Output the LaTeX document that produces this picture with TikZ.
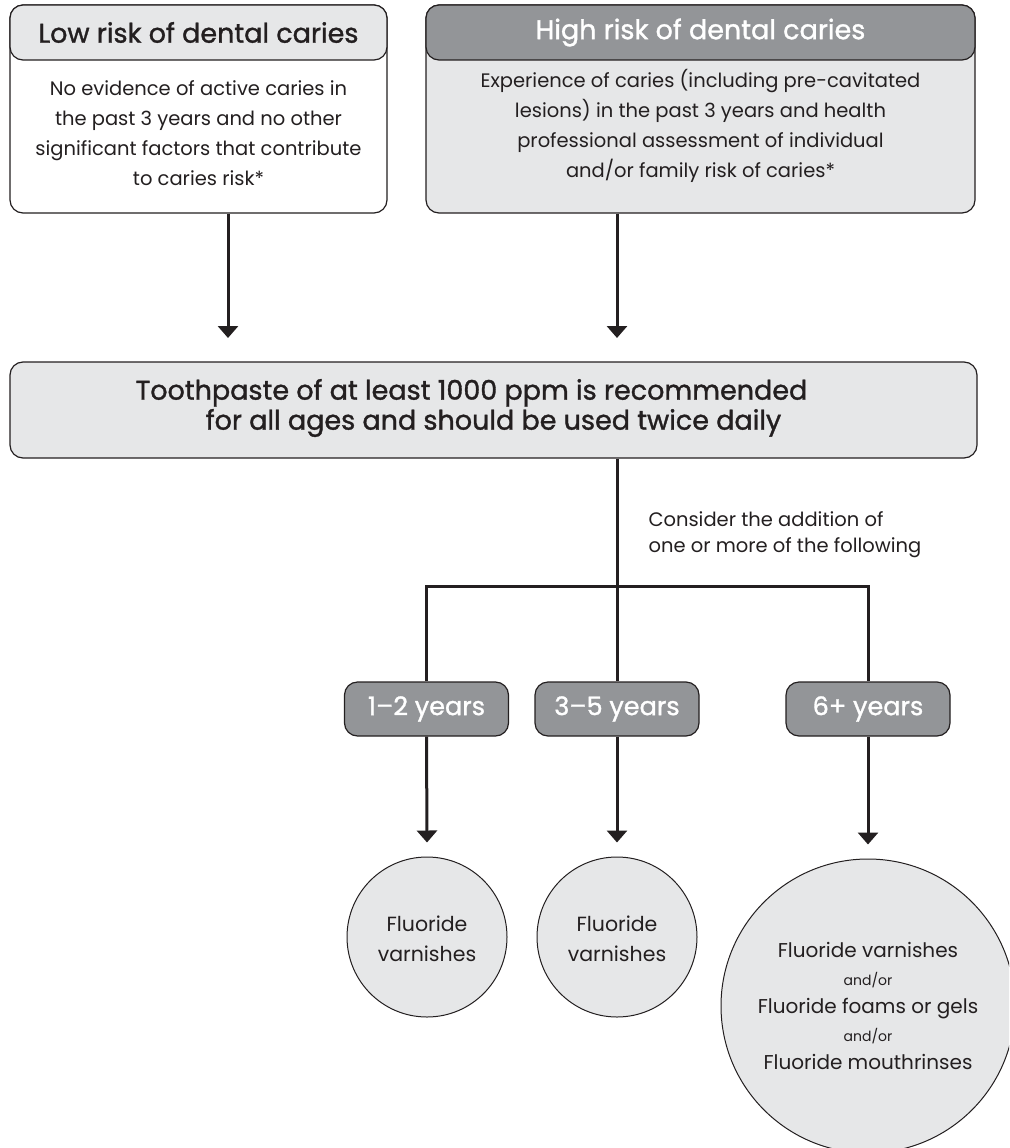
\documentclass[tikz,border=0pt]{standalone}
\usepackage{fontspec}
\setmainfont{Poppins}
\newfontfamily\medfont[FakeBold=1.2]{Poppins}
\usetikzlibrary{arrows.meta, positioning, calc}
\definecolor{lightgrey}{HTML}{E6E7E8}
\definecolor{midgrey}{HTML}{939598}
\definecolor{inkgrey}{HTML}{231F20}

\tikzset{
	box/.style={draw=inkgrey, line width=1.2pt, rounded corners=13pt, inner sep=0pt},
	headfont/.style={font=\medfont\fontsize{27}{30}\selectfont},
	bodyfont/.style={font=\fontsize{19.5}{30}\selectfont, text=inkgrey, align=center},
	agebox/.style={box, font=\medfont\fontsize{25.5}{30}\selectfont, fill=midgrey, text=white, minimum width=164pt, minimum height=54pt},
	blob/.style={circle, draw=inkgrey, line width=1pt, fill=lightgrey, inner sep=0pt},
	link/.style={line width=3pt, draw=inkgrey},
	arr/.style={link, -{Triangle[width=20pt,length=12pt]}},
}

\begin{document}
\begin{tikzpicture}[x=1pt, y=-1pt]
	\useasboundingbox (0,0) rectangle (1009,1148);
	\clip (0,0) rectangle (1009,1148);
	
	%risk boxes
	\node[box, fill=white, minimum width=377pt, minimum height=208pt] (low) at (198.5,109) {};
	\node[box, headfont, fill=lightgrey, text=inkgrey, minimum width=377pt, minimum height=55pt] (lowhead) at (198.5,32.5) {Low risk of dental caries};
	\node[bodyfont] (lowtext) at (198.5,133) {No evidence of active caries in\\the past 3 years and no other\\significant factors that contribute\\to caries risk*};
	
	\node[box, fill=lightgrey, minimum width=549pt, minimum height=208pt] (high) at (700.5,109) {};
	\node[box, headfont, fill=midgrey, text=white, minimum width=549pt, minimum height=55pt] (highhead) at (700.5,32.5) {High risk of dental caries};
	\node[bodyfont] (hightext) at (700.5,126) {Experience of caries (including pre-cavitated\\lesions) in the past 3 years and health\\professional assessment of individual\\and/or family risk of caries*};
	
	%toothpaste box
	\node[box, fill=lightgrey, minimum width=967pt, minimum height=96pt] (paste) at (493.5,410) {};
	\node[headfont, text=inkgrey, align=center] (pastetext) at (493.5,408) {Toothpaste of at least 1000 ppm is recommended\hspace*{44pt}\\for all ages and should be used twice daily};
	
	\coordinate (lowtip) at (228,338);
	\coordinate (hightip) at (617,338);
	\draw[arr] (low.south -| lowtip) -- (lowtip);
	\draw[arr] (high.south -| hightip) -- (hightip);
	
	%age groups
	\node[agebox] (age1) at (426.5,709) {1–2 years};
	\node[agebox] (age2) at (617,709) {3–5 years};
	\node[agebox] (age3) at (868,709) {6+ years};
	\node[font=\fontsize{19.5}{26}\selectfont, text=inkgrey, align=left, anchor=west] (consider) at (645,535) {Consider the addition of\\one or more of the following};
	
	\coordinate (bar) at (617,586);
	\draw[link] (paste.south -| age2) -- (age2.north);
	\draw[link] (age1.north) |- (bar) -| (age3.north);
	
	%fluoride options
	\node[blob, minimum size=160pt] (opt1) at (427,937) {};
	\node[bodyfont, font=\fontsize{20.5}{30}\selectfont] at (427,939) {Fluoride\\varnishes};
	\node[blob, minimum size=160pt] (opt2) at (617,937) {};
	\node[bodyfont, font=\fontsize{20.5}{30}\selectfont] at (617,939) {Fluoride\\varnishes};
	\node[blob, minimum size=294pt] (opt3) at (868,1006) {};
	\node[bodyfont, font=\fontsize{20}{29}\selectfont] (opt3text) at (868,1006) {Fluoride varnishes\\[-1pt]{\fontsize{14}{16}\selectfont and/or}\\[-1pt]Fluoride foams or gels\\[-1pt]{\fontsize{14}{16}\selectfont and/or}\\[-1pt]Fluoride mouthrinses};
	
	\foreach \a/\o in {age1/opt1, age2/opt2, age3/opt3}
		\draw[arr] (\a.south) -- ($(\o.north)+(0,-14)$);
\end{tikzpicture}
\end{document}
